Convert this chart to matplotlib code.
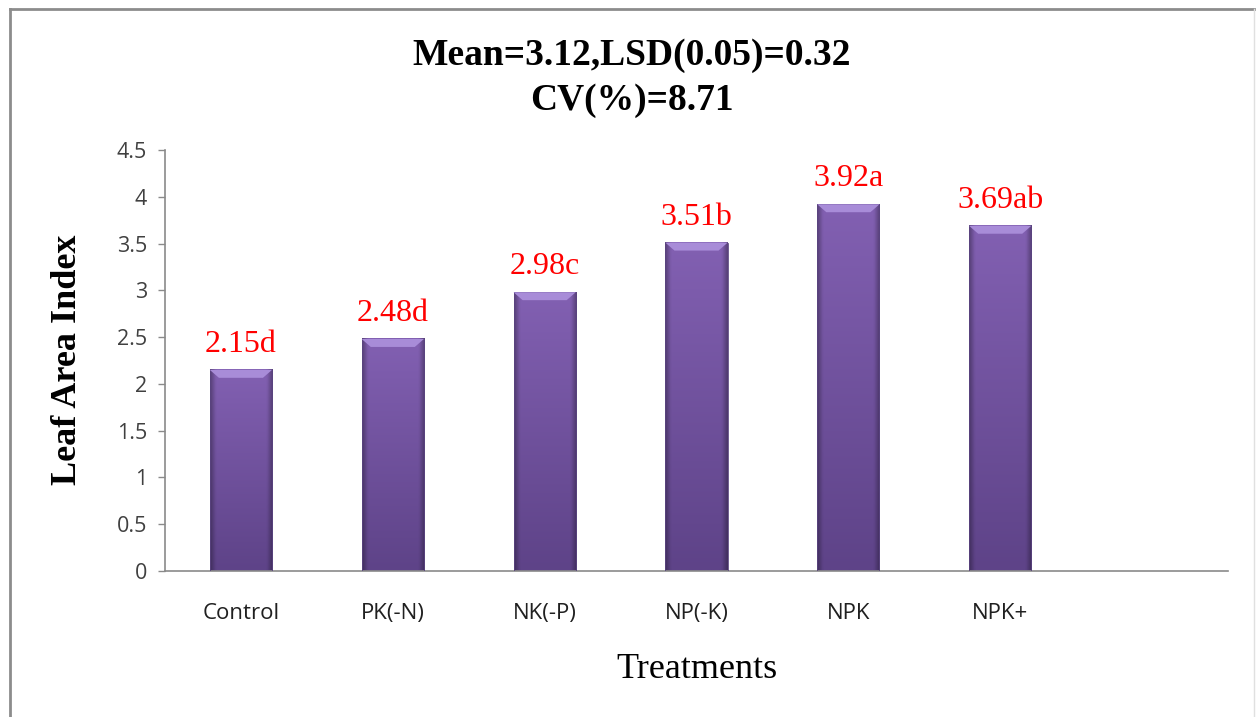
import numpy as np
import matplotlib.pyplot as plt
from matplotlib.patches import Polygon
from matplotlib.lines import Line2D

treatments = ["Control", "PK(-N)", "NK(-P)", "NP(-K)", "NPK", "NPK+", ""]
lai = [2.15, 2.48, 2.98, 3.51, 3.92, 3.69]
letters = ["d", "d", "c", "b", "a", "ab"]
yticks = [0, 0.5, 1, 1.5, 2, 2.5, 3, 3.5, 4, 4.5]
title = "Mean=3.12,LSD(0.05)=0.32\nCV(%)=8.71"

fig = plt.figure(figsize=(12.56, 7.17), dpi=100)
ax = fig.add_axes([165 / 1256, 1 - 571 / 717, (1228 - 165) / 1256, (571 - 150) / 717])

# gradient shading for each bar: lighter top, darker bottom and edges
w = 0.41
top_col = np.array([0x82, 0x60, 0xB2]) / 255
bot_col = np.array([0x5E, 0x43, 0x88]) / 255
ny, nx = 100, 40
vert = np.linspace(0, 1, ny)[:, None]
horiz = np.linspace(-1, 1, nx)[None, :]
edge = 1 - 0.3 * np.clip((np.abs(horiz) - 0.82) / 0.18, 0, 1)
img = (bot_col[None, None, :] * (1 - vert[..., None]) + top_col[None, None, :] * vert[..., None])
img = img * edge[..., None]

for i, v in enumerate(lai):
    x0, x1 = i - w / 2, i + w / 2
    ax.imshow(img, extent=(x0, x1, 0, v), origin="lower", aspect="auto",
              interpolation="bilinear", zorder=2)
    ax.add_patch(plt.Rectangle((x0, 0), w, v, fill=False, edgecolor="#5A4480",
                               linewidth=0.6, zorder=3))
    dx, dy = 0.06, 0.085
    ax.add_patch(Polygon([(x0, v), (x1, v), (x1 - dx, v - dy), (x0 + dx, v - dy)],
                         closed=True, facecolor="#A88CD8", edgecolor="none", zorder=3))
    ax.annotate(f"{v:.2f}{letters[i]}", (i, v), xytext=(0, 13), textcoords="offset points",
                ha="center", va="baseline", color="#FF0000", fontsize=23,
                family="Liberation Serif")

ax.set_xlim(-0.5, len(treatments) - 0.5)
ax.set_ylim(0, 4.5)
ax.set_yticks(yticks)
ax.set_yticklabels([f"{t:g}" for t in yticks], family="Open Sans", fontsize=15.5, color="#404040")
ax.set_xticks(range(len(treatments)))
ax.set_xticklabels(treatments, family="Open Sans", fontsize=16, color="#202020")
ax.tick_params(axis="x", length=0, pad=23)
ax.tick_params(axis="y", length=5, width=1, color="#8A8A8A", pad=8, direction="out")
for s in ["top", "right"]:
    ax.spines[s].set_visible(False)
for s in ["left", "bottom"]:
    ax.spines[s].set_color("#8A8A8A")
    ax.spines[s].set_linewidth(1.2)

fig.text(632 / 1256, 1 - 78 / 717, title, ha="center", va="center", fontsize=27,
         fontweight="bold", family="Liberation Serif", linespacing=1.35)
fig.text(67 / 1256, 1 - 360 / 717, "Leaf Area Index", rotation=90, ha="center", va="center",
         fontsize=26, fontweight="bold", family="Liberation Serif")
fig.text(697 / 1256, 1 - 670 / 717, "Treatments", ha="center", va="center", fontsize=26,
         family="Liberation Serif")

# outer chart border
fig.add_artist(Line2D([10 / 1256, 10 / 1256], [0, 1 - 9 / 717], transform=fig.transFigure,
                      color="#8C8C8C", linewidth=2))
fig.add_artist(Line2D([10 / 1256, 1254 / 1256], [1 - 9 / 717, 1 - 9 / 717],
                      transform=fig.transFigure, color="#8C8C8C", linewidth=2))
fig.add_artist(Line2D([1254 / 1256, 1254 / 1256], [0, 1 - 9 / 717], transform=fig.transFigure,
                      color="#E0E0E0", linewidth=1))

fig.savefig("out.png", dpi=100)
